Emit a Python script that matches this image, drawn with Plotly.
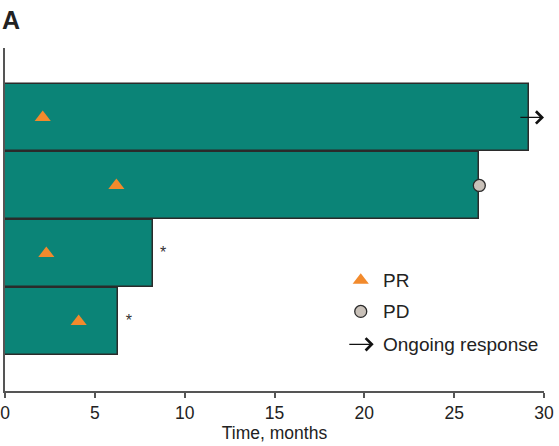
import plotly.graph_objects as go

# Swimmer plot: one bar per patient, duration of treatment in months
patients = [4, 3, 2, 1]                 # row positions, top to bottom
duration = [29.15, 26.4, 8.25, 6.3]     # months on treatment
pr_time = [2.1, 6.2, 2.3, 4.1]          # time of partial response
pd_patient = [3]
pd_time = [26.4]                        # time of progressive disease
ongoing_patient = [4]
ongoing_from = [28.6]
ongoing_to = [30.0]
star_patient = [2, 1]
star_time = [8.8, 6.9]

TEAL = "#0b8477"
ORANGE = "#f28a2c"
FONT = "Liberation Sans, Arial, sans-serif"

fig = go.Figure()

fig.add_trace(go.Bar(
    y=patients, x=duration, base=0, orientation="h", width=0.985,
    marker=dict(color=TEAL, line=dict(color="#2b2b2b", width=1.5)),
    showlegend=False, hoverinfo="skip",
))

fig.add_trace(go.Scatter(
    x=pr_time, y=patients, mode="markers",
    marker=dict(symbol="triangle-up", size=14, color=ORANGE, line=dict(width=0)),
    showlegend=False,
))

fig.add_trace(go.Scatter(
    x=pd_time, y=pd_patient, mode="markers",
    marker=dict(symbol="circle", size=12, color="#c9c1b9",
                line=dict(color="#2b2b2b", width=1.3)),
    showlegend=False,
))

fig.add_trace(go.Scatter(
    x=star_time, y=star_patient, mode="text", text=["*"] * len(star_time),
    textfont=dict(family=FONT, size=16, color="#333333"),
    showlegend=False,
))

annotations = []
for p, a, b in zip(ongoing_patient, ongoing_from, ongoing_to):
    annotations.append(dict(
        x=b, y=p, ax=a, ay=p, xref="x", yref="y", axref="x", ayref="y",
        text="", showarrow=True, arrowhead=4, arrowsize=1.7,
        arrowwidth=1.4, arrowcolor="#111111",
    ))

# Key (drawn on an overlay axis spanning the plot area in 0..1 units)
key_x = 0.66
key_items = [("PR", 0.323), ("PD", 0.232), ("Ongoing response", 0.136)]
fig.add_trace(go.Scatter(
    x=[key_x], y=[key_items[0][1]], xaxis="x2", yaxis="y2", mode="markers",
    marker=dict(symbol="triangle-up", size=14, color=ORANGE, line=dict(width=0)),
    showlegend=False,
))
fig.add_trace(go.Scatter(
    x=[key_x], y=[key_items[1][1]], xaxis="x2", yaxis="y2", mode="markers",
    marker=dict(symbol="circle", size=12, color="#c9c1b9",
                line=dict(color="#2b2b2b", width=1.3)),
    showlegend=False,
))
annotations.append(dict(
    x=key_x + 0.024, y=key_items[2][1], ax=key_x - 0.024, ay=key_items[2][1],
    xref="x2", yref="y2", axref="x2", ayref="y2",
    text="", showarrow=True, arrowhead=4, arrowsize=1.7,
    arrowwidth=1.4, arrowcolor="#111111",
))
for label, ky in key_items:
    annotations.append(dict(
        x=key_x + 0.038, y=ky, xref="x2", yref="y2", text=label,
        showarrow=False, xanchor="left", yanchor="middle",
        font=dict(family=FONT, size=19, color="#222222"),
    ))

annotations.append(dict(
    x=0, y=1, xref="paper", yref="paper", xanchor="left", yanchor="top",
    text="<b>A</b>", showarrow=False, yshift=44, xshift=-5,
    font=dict(family=FONT, size=25, color="#222222"),
))

fig.update_layout(
    width=559, height=446,
    margin=dict(l=5, r=15, t=48, b=55),
    paper_bgcolor="white", plot_bgcolor="white",
    bargap=0,
    xaxis=dict(
        range=[0, 30], tickvals=[0, 5, 10, 15, 20, 25, 30],
        automargin=False,
        showline=True, linecolor="#555555", linewidth=1.5,
        ticks="outside", ticklen=5, tickcolor="#555555", tickwidth=1.5,
        showgrid=False, zeroline=False,
        tickfont=dict(family=FONT, size=17.5, color="#222222"),
        title=dict(text="Time, months", standoff=4,
                   font=dict(family=FONT, size=17.5, color="#222222")),
    ),
    yaxis=dict(
        range=[-0.02, 5.02], showline=True, linecolor="#555555", linewidth=1.5,
        automargin=False,
        showticklabels=False, ticks="", showgrid=False, zeroline=False,
    ),
    xaxis2=dict(range=[0, 1], overlaying="x", visible=False),
    yaxis2=dict(range=[0, 1], overlaying="y", visible=False),
    annotations=annotations,
)

fig.write_html("out.html")
